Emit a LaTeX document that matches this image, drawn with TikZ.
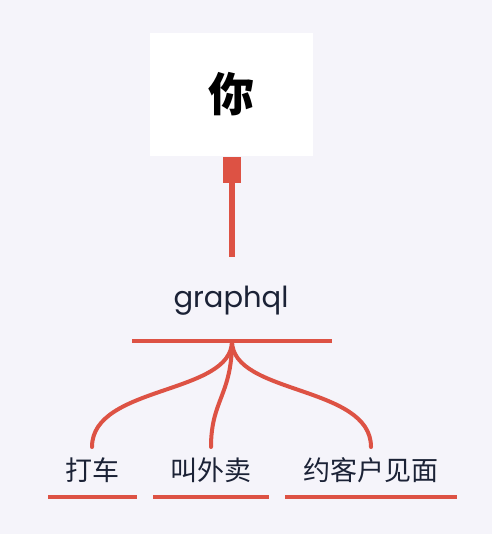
\documentclass[tikz,border=0pt]{standalone}
\usepackage{fontspec}
\setmainfont{Poppins}
\newfontfamily\cjk{Noto Sans CJK SC}
\definecolor{bg}{HTML}{F5F4FA}
\definecolor{redc}{HTML}{DD5244}
\definecolor{ink}{HTML}{1B2236}
\begin{document}
\begin{tikzpicture}[x=1pt,y=-1pt,
  redline/.style={draw=redc,line width=4pt},
  branch/.style={draw=redc,line width=4pt,line cap=round},
  cjklabel/.style={text=ink,font=\cjk\fontsize{27}{32}\selectfont,inner sep=0pt}]
\fill[bg] (0,0) rectangle (492,534);
\useasboundingbox (0,0) rectangle (492,534);
\node[fill=white,minimum width=163pt,minimum height=123pt,inner sep=0pt] (you) at (231.5,94.5) {};
\node[text=black,font=\cjk\bfseries\fontsize{46}{50}\selectfont,inner sep=0pt] (youtxt) at (you.center) {你};
\node[fill=redc,minimum width=18pt,minimum height=26pt,inner sep=0pt] (cap) at (232,170) {};
\coordinate (lineend) at (232,257);
\draw[draw=redc,line width=6pt] (cap.south) -- (lineend);
\node[text=ink,font=\fontsize{29}{34}\selectfont,inner sep=0pt] (gq) at (231,301) {graphql};
\coordinate (gl) at (132,341);
\coordinate (gr) at (332,341);
\draw[redline] (gl) -- (gr);
\coordinate (hub) at (232,341);
\coordinate (e1) at (92,447);
\coordinate (e2) at (211,447);
\coordinate (e3) at (371,447);
\draw[branch] (hub) .. controls (232,395) and (92,385) .. (e1);
\draw[branch] (hub) .. controls (232,395) and (211,400) .. (e2);
\draw[branch] (hub) .. controls (232,395) and (371,385) .. (e3);
\node[cjklabel] (l1) at (92,470) {打车};
\node[cjklabel] (l2) at (211,470) {叫外卖};
\node[cjklabel] (l3) at (371,470) {约客户见面};
\coordinate (u1a) at (48,497); \coordinate (u1b) at (137,497);
\coordinate (u2a) at (153,497); \coordinate (u2b) at (269,497);
\coordinate (u3a) at (285,497); \coordinate (u3b) at (457,497);
\draw[redline] (u1a) -- (u1b);
\draw[redline] (u2a) -- (u2b);
\draw[redline] (u3a) -- (u3b);
\end{tikzpicture}
\end{document}
